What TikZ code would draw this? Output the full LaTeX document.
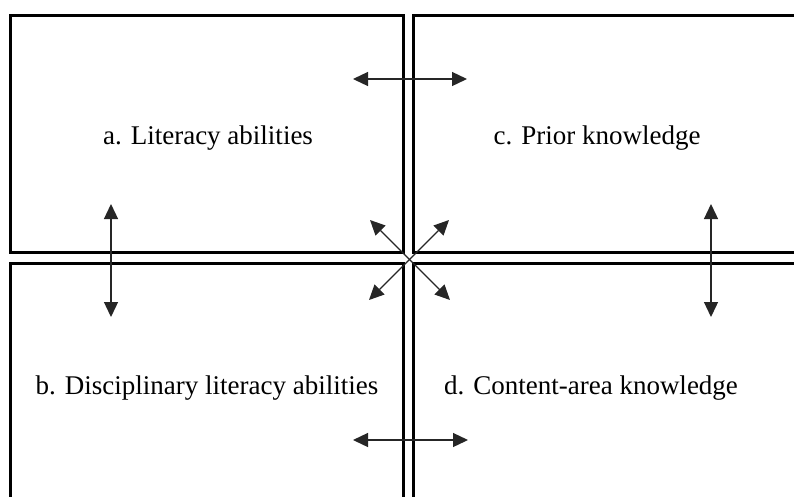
\documentclass[tikz,border=0pt]{standalone}
\usepackage{fontspec}
\setmainfont{Liberation Serif}
\usetikzlibrary{arrows.meta}
\begin{document}
\begin{tikzpicture}[x=1pt,y=-1pt,
  boxline/.style={line width=2.4pt,black},
  lbl/.style={font=\fontsize{27}{32}\selectfont,inner sep=0pt,anchor=base},
  rel/.style={line width=1.3pt,draw=black!85,{Triangle[length=15pt,width=14pt]}-{Triangle[length=15pt,width=14pt]}}]
\useasboundingbox (0,0) rectangle (794,496);
\clip (0,0) rectangle (794,496);
\fill[white] (0,0) rectangle (794,496);
\node[boxline,draw,minimum width=393pt,minimum height=237pt,inner sep=0pt] (boxa) at (207,134) {};
\node[boxline,draw,minimum width=393pt,minimum height=237pt,inner sep=0pt] (boxc) at (610,134) {};
\node[boxline,draw,minimum width=393pt,minimum height=237pt,inner sep=0pt] (boxb) at (207,382) {};
\node[boxline,draw,minimum width=393pt,minimum height=237pt,inner sep=0pt] (boxd) at (610,382) {};
\node[lbl] (ta) at (208,144) {a. Literacy abilities};
\node[lbl] (tc) at (597,144) {c. Prior knowledge};
\node[lbl] (tb) at (207,394) {b. Disciplinary literacy abilities};
\node[lbl] (td) at (591,394) {d. Content-area knowledge};
\coordinate (h1l) at (353,79);
\coordinate (h1r) at (467,79);
\coordinate (h2l) at (353,440);
\coordinate (h2r) at (468,440);
\coordinate (v1t) at (111,204);
\coordinate (v1b) at (111,317);
\coordinate (v2t) at (711,204);
\coordinate (v2b) at (711,317);
\coordinate (dul) at (370,220);
\coordinate (ddr) at (450,300);
\coordinate (dur) at (449,220);
\coordinate (ddl) at (369,300);
\draw[rel] (h1l) -- (h1r);
\draw[rel] (h2l) -- (h2r);
\draw[rel] (v1t) -- (v1b);
\draw[rel] (v2t) -- (v2b);
\draw[rel] (dul) -- (ddr);
\draw[rel] (dur) -- (ddl);
\end{tikzpicture}
\end{document}
